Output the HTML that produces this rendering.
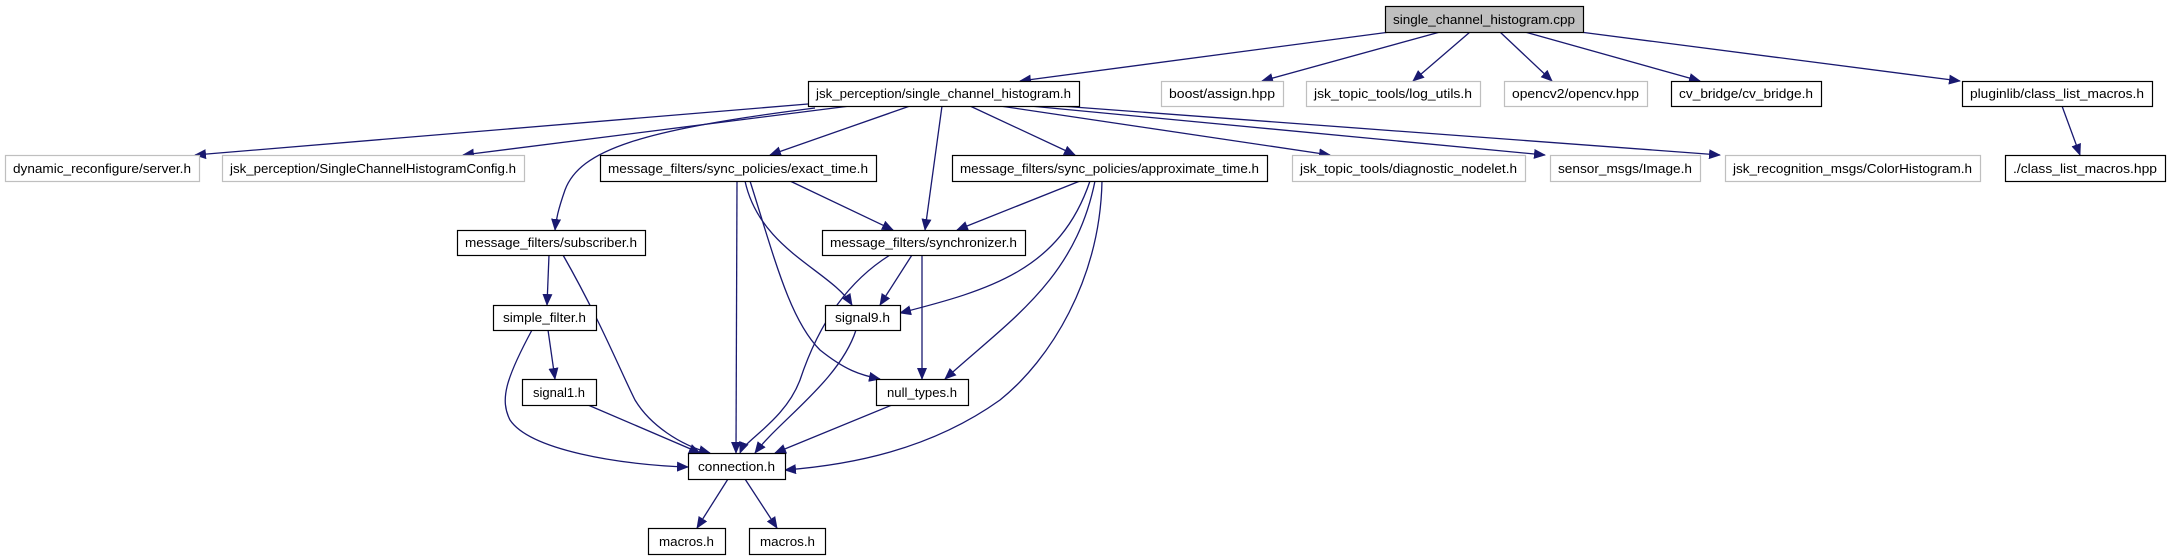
<!DOCTYPE html>
<html><head><meta charset="utf-8"><style>
html,body{margin:0;padding:0;background:#fff;}
svg{display:block;}
text{font-family:"Liberation Sans",sans-serif;font-size:12.5px;fill:#000;}
</style></head><body>
<svg width="2167" height="560" viewBox="0 0 2167 560" xmlns="http://www.w3.org/2000/svg">
<defs>
<marker id="a" markerWidth="12" markerHeight="10" refX="11" refY="5" orient="auto" markerUnits="userSpaceOnUse">
<path d="M0,0 L12,5 L0,10 Z" fill="#191970"/>
</marker>
</defs>
<g fill="none" stroke="#191970" stroke-width="1.3" marker-end="url(#a)">
<path d="M1390,32 L1020,81"/>
<path d="M1440,32 L1262,81"/>
<path d="M1470,32 L1413,81"/>
<path d="M1500,32 L1552,81"/>
<path d="M1525,32 L1700,81"/>
<path d="M1580,32 L1960,81"/>
<path d="M2062,106 L2080,155"/>
<path d="M808,104 L195,155"/>
<path d="M850,106 L463,155"/>
<path d="M815,108 C640,130 580,150 565,190 C558,210 556,220 555,230"/>
<path d="M910,106 L770,155"/>
<path d="M942,106 L925,230"/>
<path d="M970,106 L1075,155"/>
<path d="M1000,106 L1330,155"/>
<path d="M1030,106 L1545,155"/>
<path d="M1060,106 L1720,155"/>
<path d="M790,181 L893,230"/>
<path d="M1080,181 L957,230"/>
<path d="M737,181 L736,453"/>
<path d="M745,181 C760,250 830,270 852,305"/>
<path d="M750,181 C775,260 790,320 820,350 C845,370 860,375 880,379"/>
<path d="M1090,181 C1060,270 990,290 900,313"/>
<path d="M1095,181 C1075,280 1010,320 945,379"/>
<path d="M1102,181 C1100,280 1050,360 1000,400 C930,450 850,465 785,470"/>
<path d="M912,255 L880,305"/>
<path d="M922,255 L922,379"/>
<path d="M890,255 C850,280 820,320 800,380 C785,420 745,440 740,453"/>
<path d="M549,255 L547,305"/>
<path d="M563,255 C600,320 620,370 635,400 C650,425 680,445 710,453"/>
<path d="M548,330 L555,379"/>
<path d="M532,330 C505,380 500,400 510,420 C530,450 620,465 688,467"/>
<path d="M588,405 L700,453"/>
<path d="M856,330 C840,380 780,420 755,453"/>
<path d="M892,405 L775,453"/>
<path d="M728,479 L697,528"/>
<path d="M745,479 L777,528"/>
</g>
<g stroke-width="1.2">
<rect x="1385.5" y="6.5" width="198" height="26" fill="#bfbfbf" stroke="#000"/>
<rect x="808.5" y="81.5" width="271" height="25" fill="#fff" stroke="#000"/>
<rect x="1161.5" y="81.5" width="122" height="25" fill="#fff" stroke="#bfbfbf"/>
<rect x="1306.5" y="81.5" width="174" height="25" fill="#fff" stroke="#bfbfbf"/>
<rect x="1504.5" y="81.5" width="143" height="25" fill="#fff" stroke="#bfbfbf"/>
<rect x="1671.5" y="81.5" width="150" height="25" fill="#fff" stroke="#000"/>
<rect x="1962.5" y="81.5" width="190" height="25" fill="#fff" stroke="#000"/>
<rect x="5.5" y="155.5" width="194" height="26" fill="#fff" stroke="#bfbfbf"/>
<rect x="222.5" y="155.5" width="302" height="26" fill="#fff" stroke="#bfbfbf"/>
<rect x="600.5" y="155.5" width="276" height="26" fill="#fff" stroke="#000"/>
<rect x="952.5" y="155.5" width="315" height="26" fill="#fff" stroke="#000"/>
<rect x="1292.5" y="155.5" width="233" height="26" fill="#fff" stroke="#bfbfbf"/>
<rect x="1550.5" y="155.5" width="150" height="26" fill="#fff" stroke="#bfbfbf"/>
<rect x="1725.5" y="155.5" width="255" height="26" fill="#fff" stroke="#bfbfbf"/>
<rect x="2005.5" y="155.5" width="160" height="26" fill="#fff" stroke="#000"/>
<rect x="457.5" y="230.5" width="188" height="25" fill="#fff" stroke="#000"/>
<rect x="822.5" y="230.5" width="203" height="25" fill="#fff" stroke="#000"/>
<rect x="493.5" y="305.5" width="103" height="25" fill="#fff" stroke="#000"/>
<rect x="825.5" y="305.5" width="75" height="25" fill="#fff" stroke="#000"/>
<rect x="522.5" y="379.5" width="74" height="26" fill="#fff" stroke="#000"/>
<rect x="876.5" y="379.5" width="92" height="26" fill="#fff" stroke="#000"/>
<rect x="688.5" y="453.5" width="97" height="26" fill="#fff" stroke="#000"/>
<rect x="648.5" y="528.5" width="77" height="26" fill="#fff" stroke="#000"/>
<rect x="749.5" y="528.5" width="76" height="26" fill="#fff" stroke="#000"/>
</g>
<g text-anchor="start" lengthAdjust="spacingAndGlyphs">
<text x="1393" y="24" textLength="182" lengthAdjust="spacingAndGlyphs">single_channel_histogram.cpp</text>
<text x="816" y="98" textLength="255" lengthAdjust="spacingAndGlyphs">jsk_perception/single_channel_histogram.h</text>
<text x="1169" y="98" textLength="106" lengthAdjust="spacingAndGlyphs">boost/assign.hpp</text>
<text x="1314" y="98" textLength="158" lengthAdjust="spacingAndGlyphs">jsk_topic_tools/log_utils.h</text>
<text x="1512" y="98" textLength="127" lengthAdjust="spacingAndGlyphs">opencv2/opencv.hpp</text>
<text x="1679" y="98" textLength="134" lengthAdjust="spacingAndGlyphs">cv_bridge/cv_bridge.h</text>
<text x="1970" y="98" textLength="174" lengthAdjust="spacingAndGlyphs">pluginlib/class_list_macros.h</text>
<text x="13" y="173" textLength="178" lengthAdjust="spacingAndGlyphs">dynamic_reconfigure/server.h</text>
<text x="230" y="173" textLength="286" lengthAdjust="spacingAndGlyphs">jsk_perception/SingleChannelHistogramConfig.h</text>
<text x="608" y="173" textLength="260" lengthAdjust="spacingAndGlyphs">message_filters/sync_policies/exact_time.h</text>
<text x="960" y="173" textLength="299" lengthAdjust="spacingAndGlyphs">message_filters/sync_policies/approximate_time.h</text>
<text x="1300" y="173" textLength="217" lengthAdjust="spacingAndGlyphs">jsk_topic_tools/diagnostic_nodelet.h</text>
<text x="1558" y="173" textLength="134" lengthAdjust="spacingAndGlyphs">sensor_msgs/Image.h</text>
<text x="1733" y="173" textLength="239" lengthAdjust="spacingAndGlyphs">jsk_recognition_msgs/ColorHistogram.h</text>
<text x="2013" y="173" textLength="144" lengthAdjust="spacingAndGlyphs">./class_list_macros.hpp</text>
<text x="465" y="247" textLength="172" lengthAdjust="spacingAndGlyphs">message_filters/subscriber.h</text>
<text x="830" y="247" textLength="187" lengthAdjust="spacingAndGlyphs">message_filters/synchronizer.h</text>
<text x="503" y="322" textLength="83" lengthAdjust="spacingAndGlyphs">simple_filter.h</text>
<text x="835" y="322" textLength="55" lengthAdjust="spacingAndGlyphs">signal9.h</text>
<text x="533" y="397" textLength="52" lengthAdjust="spacingAndGlyphs">signal1.h</text>
<text x="887" y="397" textLength="70" lengthAdjust="spacingAndGlyphs">null_types.h</text>
<text x="698" y="471" textLength="77" lengthAdjust="spacingAndGlyphs">connection.h</text>
<text x="659" y="546" textLength="55" lengthAdjust="spacingAndGlyphs">macros.h</text>
<text x="760" y="546" textLength="55" lengthAdjust="spacingAndGlyphs">macros.h</text>
</g>
</svg>
</body></html>
